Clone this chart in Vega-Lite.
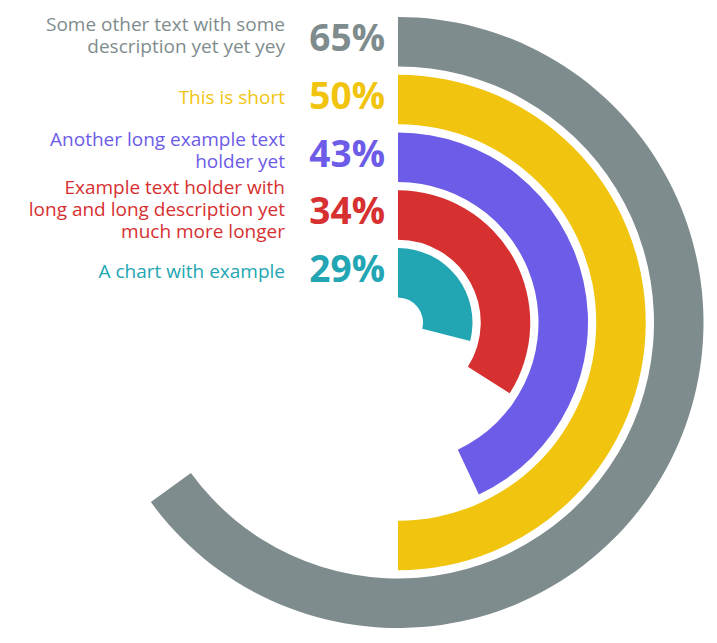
{
  "$schema": "https://vega.github.io/schema/vega-lite/v6.json",
  "autosize": {"type": "none"},
  "width": 636,
  "height": 643,
  "padding": {"left": 80, "top": 1, "right": 0, "bottom": 0},
  "background": "white",
  "config": {"view": {"stroke": null}},
  "data": {
    "values": [
      {"label": "Some other text with some\ndescription yet yet yey", "pct": 0.65, "rank": 5},
      {"label": "This is short", "pct": 0.50, "rank": 4},
      {"label": "Another long example text\nholder yet", "pct": 0.43, "rank": 3},
      {"label": "Example text holder with\nlong and long description yet\nmuch more longer", "pct": 0.34, "rank": 2},
      {"label": "A chart with example", "pct": 0.29, "rank": 1}
    ]
  },
  "encoding": {
    "color": {
      "field": "label",
      "type": "nominal",
      "legend": null,
      "scale": {
        "domain": [
          "Some other text with some\ndescription yet yet yey",
          "This is short",
          "Another long example text\nholder yet",
          "Example text holder with\nlong and long description yet\nmuch more longer",
          "A chart with example"
        ],
        "range": ["#7f8c8d", "#f1c40f", "#6c5ce7", "#d63031", "#22a6b3"]
      }
    }
  },
  "layer": [
    {
      "mark": {"type": "arc", "radius2Offset": -49.5},
      "encoding": {
        "theta": {"field": "pct", "type": "quantitative", "stack": null, "scale": {"domain": [0, 1], "range": [0, 6.283185307179586]}},
        "theta2": {"datum": 0},
        "radius": {"field": "rank", "type": "quantitative", "scale": {"domain": [0, 5], "range": [16.75, 305.5], "zero": false}},
        "radius2": {"field": "rank"}
      }
    },
    {
      "mark": {"type": "text", "align": "right", "baseline": "middle", "dx": -13, "dy": -2, "radiusOffset": -25, "font": "Open Sans", "fontWeight": "bold", "fontSize": 37},
      "encoding": {
        "theta": {"datum": 0},
        "radius": {"field": "rank", "type": "quantitative"},
        "text": {"field": "pct", "type": "quantitative", "format": ".0%"}
      }
    },
    {
      "transform": [{"filter": "datum.rank == 5 || datum.rank == 3"}],
      "mark": {"type": "text", "align": "right", "baseline": "middle", "dx": -113, "dy": -17.5, "radiusOffset": -25, "font": "Open Sans", "fontSize": 19, "lineBreak": "\n", "lineHeight": 22.3},
      "encoding": {
        "theta": {"datum": 0},
        "radius": {"field": "rank", "type": "quantitative"},
        "text": {"field": "label", "type": "nominal"}
      }
    },
    {
      "transform": [{"filter": "datum.rank == 2"}],
      "mark": {"type": "text", "align": "right", "baseline": "middle", "dx": -113, "dy": -27.4, "radiusOffset": -25, "font": "Open Sans", "fontSize": 19, "lineBreak": "\n", "lineHeight": 22.3},
      "encoding": {
        "theta": {"datum": 0},
        "radius": {"field": "rank", "type": "quantitative"},
        "text": {"field": "label", "type": "nominal"}
      }
    },
    {
      "transform": [{"filter": "datum.rank == 4 || datum.rank == 1"}],
      "mark": {"type": "text", "align": "right", "baseline": "middle", "dx": -113, "dy": -1.5, "radiusOffset": -25, "font": "Open Sans", "fontSize": 19},
      "encoding": {
        "theta": {"datum": 0},
        "radius": {"field": "rank", "type": "quantitative"},
        "text": {"field": "label", "type": "nominal"}
      }
    }
  ]
}
